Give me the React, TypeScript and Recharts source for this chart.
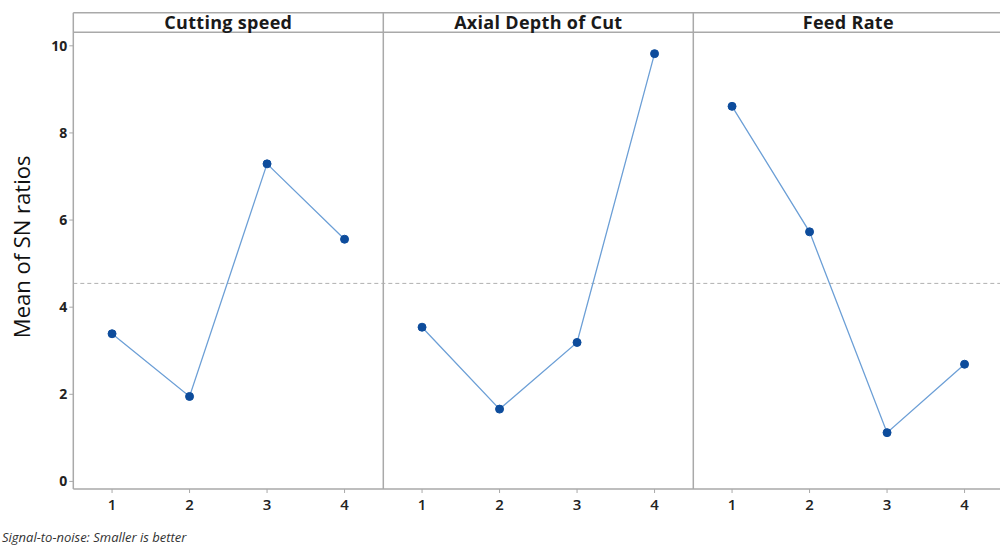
import React from "react";
import {
  LineChart,
  Line,
  XAxis,
  YAxis,
  ReferenceLine,
  ReferenceArea,
} from "recharts";

const factors = ["Cutting speed", "Axial Depth of Cut", "Feed Rate"];
const levels = [1, 2, 3, 4];
const cuttingSpeed = [3.39, 1.95, 7.29, 5.56];
const axialDepth = [3.54, 1.66, 3.19, 9.82];
const feedRate = [8.61, 5.73, 1.12, 2.69];
const yTicks = [0, 2, 4, 6, 8, 10];
const yLabel = "Mean of SN ratios";
const footnote = "Signal-to-noise: Smaller is better";

const series = [cuttingSpeed, axialDepth, feedRate];
const keys = ["cs", "ad", "fr"];

const data = series.flatMap((vals, p) =>
  levels.map((lv, i) => {
    const row: Record<string, number | null> = { x: p * 4 + lv, cs: null, ad: null, fr: null };
    row[keys[p]] = vals[i];
    return row;
  })
);

const all = series.flat();
const overallMean = all.reduce((a, b) => a + b, 0) / all.length;

const Y_MIN = -0.174;
const Y_MAX = 10.76;
const HEADER_BOTTOM = 10.31;

const GRAY = "#a9a9a9";
const LINE = "#6c9fd6";
const DOT = "#0d4c9c";
const FONT = "'Open Sans', sans-serif";

export default function App() {
  return (
    <div
      style={{
        position: "absolute",
        left: 0,
        top: 0,
        width: 1000,
        height: 549,
        overflow: "hidden",
        background: "#fff",
      }}
    >
      <LineChart
        width={1010}
        height={549}
        data={data}
        margin={{ top: 12.7, right: 6.7, left: 0, bottom: 30 }}
      >
        <XAxis
          dataKey="x"
          type="number"
          domain={[0.5, 12.5]}
          ticks={[1, 2, 3, 4, 5, 6, 7, 8, 9, 10, 11, 12]}
          tickFormatter={(v: number) => String(((v - 1) % 4) + 1)}
          height={30}
          axisLine={{ stroke: GRAY, strokeWidth: 1.5 }}
          tickLine={{ stroke: GRAY }}
          tickSize={4}
          tick={{ fill: "#222", fontSize: 15, fontFamily: FONT, fontWeight: 600, dy: 4 }}
          allowDataOverflow
        />
        <YAxis
          type="number"
          domain={[Y_MIN, Y_MAX]}
          ticks={yTicks}
          width={73.3}
          axisLine={{ stroke: GRAY, strokeWidth: 1.5 }}
          tickLine={{ stroke: GRAY }}
          tickSize={4}
          tick={{ fill: "#222", fontSize: 14, fontFamily: FONT, fontWeight: 700 }}
          allowDataOverflow
          label={{
            value: yLabel,
            angle: -90,
            position: "center",
            dx: -14,
            dy: -4,
            style: { fill: "#111", fontSize: 22, fontFamily: FONT, textAnchor: "middle" },
          }}
        />
        <ReferenceLine y={Y_MAX} stroke={GRAY} strokeWidth={1.5} />
        <ReferenceLine y={HEADER_BOTTOM} stroke={GRAY} strokeWidth={1.5} />
        <ReferenceLine x={4.5} stroke={GRAY} strokeWidth={1.5} />
        <ReferenceLine x={8.5} stroke={GRAY} strokeWidth={1.5} />
        <ReferenceLine
          y={overallMean}
          stroke="#b0b0b0"
          strokeDasharray="4 3"
          strokeWidth={1}
        />
        {factors.map((f, i) => (
          <ReferenceArea
            key={f}
            x1={0.5 + i * 4}
            x2={4.5 + i * 4}
            y1={HEADER_BOTTOM}
            y2={Y_MAX}
            fill="none"
            fillOpacity={0}
            stroke="none"
            label={{
              value: f,
              position: "center",
              style: { fill: "#1a1a1a", fontSize: 18, fontWeight: 700, fontFamily: FONT, letterSpacing: 0.3 },
            }}
          />
        ))}
        {keys.map((k) => (
          <Line
            key={k}
            dataKey={k}
            type="linear"
            stroke={LINE}
            strokeWidth={1.3}
            dot={{ r: 4, fill: DOT, stroke: DOT, strokeWidth: 1 }}
            activeDot={false}
            isAnimationActive={false}
          />
        ))}
      </LineChart>
      <div
        style={{
          position: "absolute",
          left: 2,
          top: 528,
          fontFamily: FONT,
          fontStyle: "italic",
          fontSize: 13,
          color: "#333",
          whiteSpace: "nowrap",
        }}
      >
        {footnote}
      </div>
    </div>
  );
}
